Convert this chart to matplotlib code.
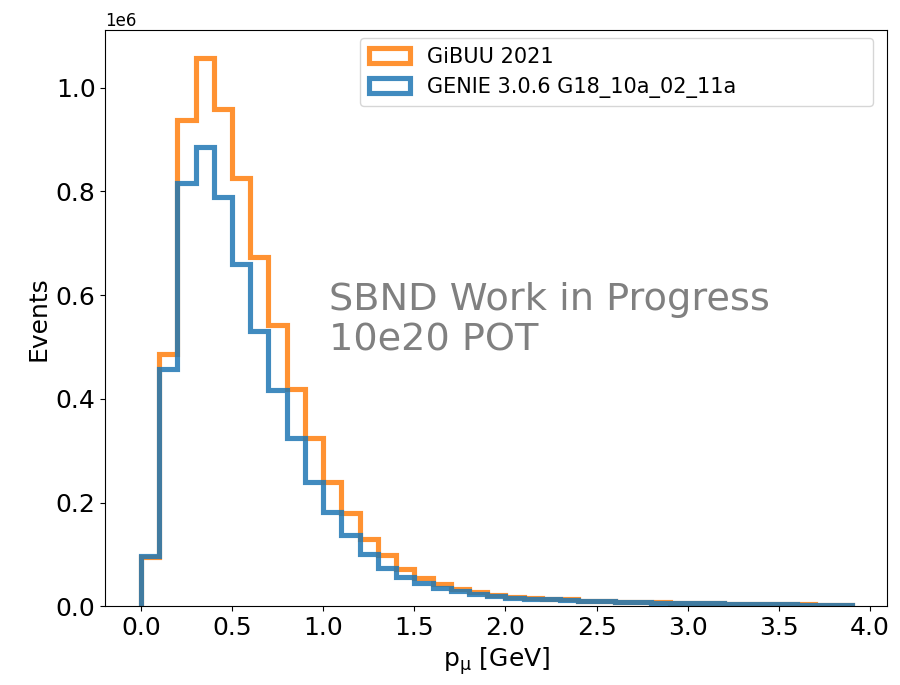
import matplotlib
matplotlib.use('Agg')
import matplotlib.pyplot as plt
import numpy as np

# momentum bins, 0.1 GeV wide from 0 to 3.9
bin_edges = np.round(np.arange(0, 3.95, 0.1), 2)

gibuu = [0.094, 0.486, 0.937, 1.058, 0.958, 0.825, 0.674, 0.543, 0.418, 0.324,
         0.240, 0.180, 0.129, 0.098, 0.071, 0.055, 0.042, 0.034, 0.027, 0.021,
         0.018, 0.016, 0.014, 0.013, 0.011, 0.010, 0.009, 0.008, 0.008, 0.007,
         0.006, 0.006, 0.005, 0.005, 0.004, 0.004, 0.004, 0.003, 0.003]
genie = [0.096, 0.457, 0.816, 0.885, 0.789, 0.660, 0.530, 0.417, 0.324, 0.240,
         0.181, 0.137, 0.101, 0.073, 0.057, 0.044, 0.035, 0.029, 0.023, 0.019,
         0.016, 0.014, 0.013, 0.012, 0.011, 0.010, 0.009, 0.008, 0.007, 0.007,
         0.006, 0.006, 0.005, 0.005, 0.004, 0.004, 0.003, 0.003, 0.003]

labels = ['GiBUU 2021', 'GENIE 3.0.6 G18_10a_02_11a']

centers = 0.5 * (bin_edges[:-1] + bin_edges[1:])

fig = plt.figure(figsize=(9, 6.85), dpi=100)
ax = fig.add_axes([0.117, 0.115, 0.869, 0.841])

ax.hist(centers, bins=bin_edges, weights=np.array(gibuu) * 1e6, histtype='step',
        color='#ff7f0e', linewidth=3.7, alpha=0.85, label=labels[0])
ax.hist(centers, bins=bin_edges, weights=np.array(genie) * 1e6, histtype='step',
        color='#1f77b4', linewidth=3.7, alpha=0.85, label=labels[1])

ax.set_xticks(np.arange(0, 4.01, 0.5))
ax.tick_params(labelsize=18)
ax.yaxis.get_offset_text().set_fontsize(12)
ax.set_xlabel(r'p$_{\mathrm{\mu}}$ [GeV]', fontsize=18)
ax.set_ylabel('Events', fontsize=18)

ax.text(1.03, 0.552e6, 'SBND Work in Progress\n10e20 POT', fontsize=27.5,
        color='gray', va='center', ha='left', linespacing=1.15)

# legend box is wider than its text in the original
ax.legend(loc='upper left', bbox_to_anchor=(0.326, 0, 0.656, 0.986),
          mode='expand', borderaxespad=0, fontsize=15)

plt.savefig('out.png')
